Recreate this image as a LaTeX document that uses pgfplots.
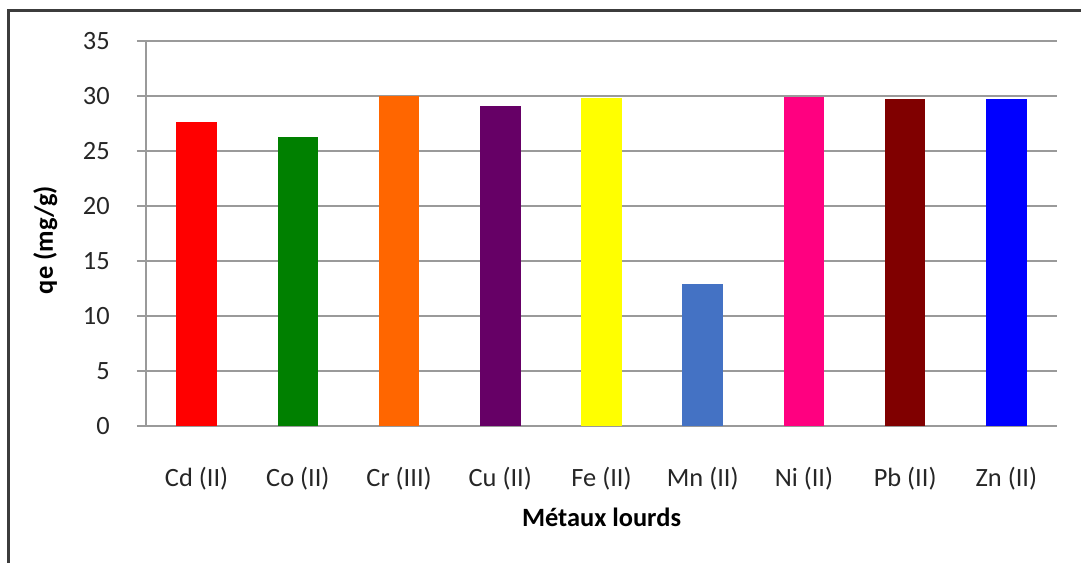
\documentclass[border=0pt]{standalone}
\usepackage{fontspec}
\setmainfont{Carlito}
\usepackage{pgfplots}
\pgfplotsset{compat=1.18}

\definecolor{cCd}{HTML}{FF0000}
\definecolor{cCo}{HTML}{008000}
\definecolor{cCr}{HTML}{FF6600}
\definecolor{cCu}{HTML}{660066}
\definecolor{cFe}{HTML}{FFFF00}
\definecolor{cMn}{HTML}{4472C4}
\definecolor{cNi}{HTML}{FF0080}
\definecolor{cPb}{HTML}{800000}
\definecolor{cZn}{HTML}{0000FF}
\definecolor{gridgray}{HTML}{9A9A9A}
\definecolor{framegray}{HTML}{3C3C3C}

\newcommand{\chartfont}{\fontsize{19.8}{23}\selectfont}

\begin{document}
\begin{tikzpicture}
% page = 1081 x 563 px, 1px = 0.75pt, origin at axis bottom-left
\useasboundingbox (-109.5pt,-102.75pt) rectangle (701.25pt,319.5pt);
\draw[framegray, line width=2pt] (-103.2pt,-104pt) -- (-103.2pt,311.4pt) -- (703pt,311.4pt);

\begin{axis}[
    at={(0,0)}, anchor=south west,
    scale only axis,
    width=683.25pt, height=288.75pt,
    ybar, bar width=0.4, bar shift=0pt,
    xmin=-0.5, xmax=8.5,
    ymin=0, ymax=35, ytick distance=5,
    xtick={0,...,8},
    xticklabels={Cd (II),Co (II),Cr (III),Cu (II),Fe (II),Mn (II),Ni (II),Pb (II),Zn (II)},
    axis x line*=bottom, axis y line*=left,
    axis line style={gridgray, line width=0.9pt, -},
    ymajorgrids, grid style={gridgray, line width=0.9pt},
    tick align=outside, major tick length=6.75pt,
    ytick style={gridgray, line width=0.9pt},
    xtick style={draw=none},
    /pgf/number format/assume math mode=true,
    ticklabel style={font=\chartfont, text=black!85},
    yticklabel style={anchor=east, inner sep=0pt, xshift=-20.25pt},
    xticklabel style={anchor=base, inner sep=0pt, yshift=-38.25pt},
    xlabel={Métaux lourds}, ylabel={qe (mg/g)},
    label style={font=\chartfont\bfseries, text=black},
    xlabel style={at={(axis description cs:0.5,-0.2615)}, anchor=base, inner sep=0pt},
    ylabel style={at={(axis description cs:-0.1021,0.483)}, anchor=base, inner sep=0pt},
    clip=false,
]
\addplot[fill=cCd, draw=none] coordinates {(0,27.6)};
\addplot[fill=cCo, draw=none] coordinates {(1,26.3)};
\addplot[fill=cCr, draw=none] coordinates {(2,30.0)};
\addplot[fill=cCu, draw=none] coordinates {(3,29.1)};
\addplot[fill=cFe, draw=none] coordinates {(4,29.8)};
\addplot[fill=cMn, draw=none] coordinates {(5,12.9)};
\addplot[fill=cNi, draw=none] coordinates {(6,29.9)};
\addplot[fill=cPb, draw=none] coordinates {(7,29.7)};
\addplot[fill=cZn, draw=none] coordinates {(8,29.7)};
\end{axis}
\end{tikzpicture}
\end{document}
